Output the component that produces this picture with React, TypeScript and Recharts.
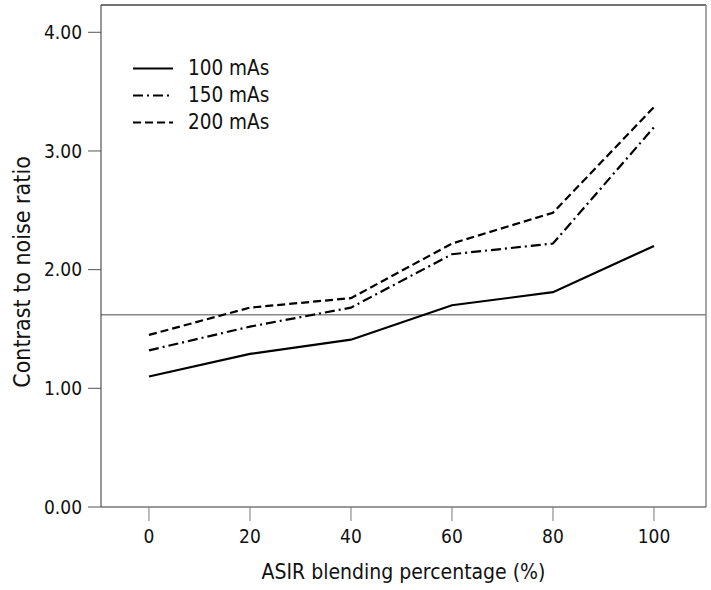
import React from 'react';
import { LineChart, Line, XAxis, YAxis, ReferenceLine, Label } from 'recharts';

// ASIR blending percentage (x) and contrast to noise ratio per tube current
const asirPercent = [0, 20, 40, 60, 80, 100];
const cnr100 = [1.1, 1.29, 1.41, 1.7, 1.81, 2.2];
const cnr150 = [1.32, 1.52, 1.68, 2.13, 2.22, 3.2];
const cnr200 = [1.45, 1.68, 1.76, 2.22, 2.48, 3.37];

const xTicks = [0, 20, 40, 60, 80, 100];
const yTicks = [0, 1, 2, 3, 4];
const refCnr = 1.62;

const X_DOMAIN: [number, number] = [-9.5, 110.3];
const Y_DOMAIN: [number, number] = [0, 4.23];

const FONT = "'DejaVu Sans Condensed', 'Liberation Sans Narrow', sans-serif";

const seriesInfo = [
  { key: 'mAs100', name: '100 mAs', dash: undefined as string | undefined },
  { key: 'mAs150', name: '150 mAs', dash: '10 4 2 4' },
  { key: 'mAs200', name: '200 mAs', dash: '8 4' },
];

const data = asirPercent.map((x, i) => ({
  asir: x,
  mAs100: cnr100[i],
  mAs150: cnr150[i],
  mAs200: cnr200[i],
}));

// legend drawn over the plot, top-left corner
function LineKey() {
  return (
    <div
      style={{
        position: 'absolute',
        left: 133,
        top: 55,
        fontFamily: FONT,
        fontSize: 20.5,
        color: '#111',
        pointerEvents: 'none',
      }}
    >
      {seriesInfo.map((s) => (
        <div key={s.key} style={{ display: 'flex', alignItems: 'center', height: 27 }}>
          <svg width={40} height={27} style={{ display: 'block' }}>
            <line x1={0} x2={40} y1={13.5} y2={13.5} stroke="#000" strokeWidth={2} strokeDasharray={s.dash} />
          </svg>
          <span style={{ marginLeft: 15, lineHeight: '27px' }}>{s.name}</span>
        </div>
      ))}
    </div>
  );
}

function YTitle(props: any) {
  const vb = props.viewBox || { x: 0, y: 0, width: 0, height: 0 };
  const cx = vb.x + 22;
  const cy = vb.y + vb.height / 2 + 16;
  return (
    <text
      x={cx}
      y={cy}
      transform={`rotate(-90, ${cx}, ${cy})`}
      textAnchor="middle"
      dominantBaseline="central"
      fontFamily={FONT}
      fontSize={23}
      fill="#111"
    >
      Contrast to noise ratio
    </text>
  );
}

function XTitle(props: any) {
  const vb = props.viewBox || { x: 0, y: 0, width: 0, height: 0 };
  const cx = vb.x + vb.width / 2;
  const cy = vb.y + 65;
  return (
    <text x={cx} y={cy} textAnchor="middle" dominantBaseline="central" fontFamily={FONT} fontSize={21} fill="#111">
      ASIR blending percentage (%)
    </text>
  );
}

export default function App() {
  return (
    <div style={{ position: 'absolute', left: 0, top: 0, width: 711, height: 590, background: '#fff' }}>
      <LineChart width={711} height={590} data={data} margin={{ top: 5, right: 5, left: 0, bottom: 0 }}>
        <XAxis
          type="number"
          dataKey="asir"
          domain={X_DOMAIN}
          ticks={xTicks}
          allowDataOverflow
          height={83}
          stroke="#333"
          tickSize={14}
          tickMargin={9}
          tickLine={{ stroke: '#777' }}
          tick={{ fill: '#111', fontFamily: FONT, fontSize: 19 }}
        >
          <Label content={<XTitle />} />
        </XAxis>
        <YAxis
          type="number"
          domain={Y_DOMAIN}
          ticks={yTicks}
          allowDataOverflow
          width={101}
          stroke="#333"
          tickSize={13}
          tickMargin={6}
          tickLine={{ stroke: '#555' }}
          tickFormatter={(v: number) => v.toFixed(2)}
          tick={{ fill: '#111', fontFamily: FONT, fontSize: 19 }}
        >
          <Label content={<YTitle />} />
        </YAxis>
        {/* frame on top and right */}
        <ReferenceLine y={Y_DOMAIN[1]} stroke="#444" strokeWidth={1.5} />
        <ReferenceLine x={X_DOMAIN[1]} stroke="#888" strokeWidth={1.5} />
        <ReferenceLine y={refCnr} stroke="#888" strokeWidth={1.5} />
        {seriesInfo.map((s) => (
          <Line
            key={s.key}
            type="linear"
            dataKey={s.key}
            name={s.name}
            stroke="#000"
            strokeWidth={2.2}
            strokeDasharray={s.dash}
            dot={false}
            activeDot={false}
            isAnimationActive={false}
          />
        ))}
      </LineChart>
      <LineKey />
    </div>
  );
}
